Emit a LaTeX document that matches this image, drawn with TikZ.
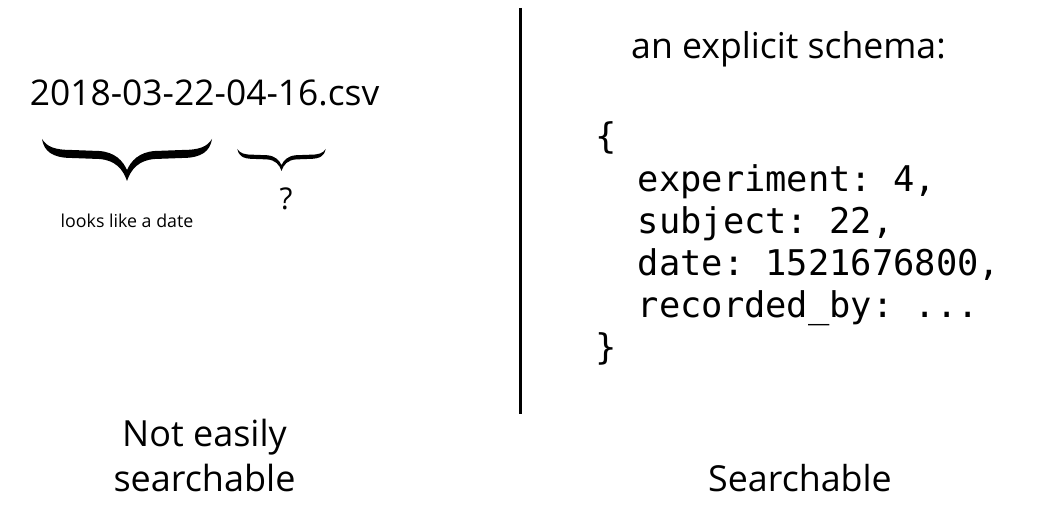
\documentclass[tikz,border=0pt]{standalone}
\usepackage{fontspec}
\setmainfont{Open Sans}
\newfontfamily\codefont{DejaVu Sans Mono}
\frenchspacing
\tikzset{
  txt/.style={inner sep=0pt, anchor=base, text=black},
  code/.style={inner sep=0pt, anchor=base west, font=\codefont\fontsize{35.4}{42}\selectfont},
  calbrace/.pic={
    \fill[black] (-85,0) .. controls (-83,12) and (-75,19) .. (-55,19) -- (-28,20)
      .. controls (-12,21) and (-4,30) .. (0,42)
      .. controls (4,30) and (12,21) .. (28,20) -- (55,19)
      .. controls (75,19) and (83,12) .. (85,0)
      .. controls (80,8) and (72,11) .. (55,11) -- (28,12)
      .. controls (12,13) and (4,22) .. (0,31)
      .. controls (-4,22) and (-12,13) .. (-28,12) -- (-55,11)
      .. controls (-72,11) and (-80,8) .. (-85,0) -- cycle;
  }
}
\begin{document}
\begin{tikzpicture}[x=1pt,y=-1pt]
\useasboundingbox[fill=white] (0,0) rectangle (1037,526);
% left side
\node[txt, font=\fontsize{35.4}{42}\selectfont] (fname) at (204.5,106) {2018-03-22-04-16.csv};
\pic at (127,139) {calbrace};
\pic[scale=0.52] at (281.5,149) {calbrace};
\node[txt, font=\fontsize{17.8}{21}\selectfont] (date) at (127,227.5) {looks like a date};
\node[txt, font=\fontsize{30}{36}\selectfont] (q) at (286,210) {?};
\node[txt, align=center, font=\fontsize{36}{45}\selectfont] (notsearch) at (204.5,492) {Not easily\\searchable};
% divider
\coordinate (top) at (520.5,8);
\coordinate (bot) at (520.5,414);
\draw[line width=2.3pt] (top) -- (bot);
% right side
\node[txt, font=\fontsize{35.6}{42}\selectfont] (title) at (788.5,59) {an explicit schema:};
\node[code] (open) at (595,149) {\{};
\node[code] (l1) at (637.6,191.2) {experiment: 4,};
\node[code] (l2) at (637.6,233.4) {subject: 22,};
\node[code] (l3) at (637.6,275.6) {date: 1521676800,};
\node[code] (l4) at (637.6,317.8) {recorded\_by: ...};
\node[code] (close) at (595,360) {\}};
\node[txt, font=\fontsize{35.8}{42}\selectfont] (search) at (800,492) {Searchable};
\end{tikzpicture}
\end{document}
